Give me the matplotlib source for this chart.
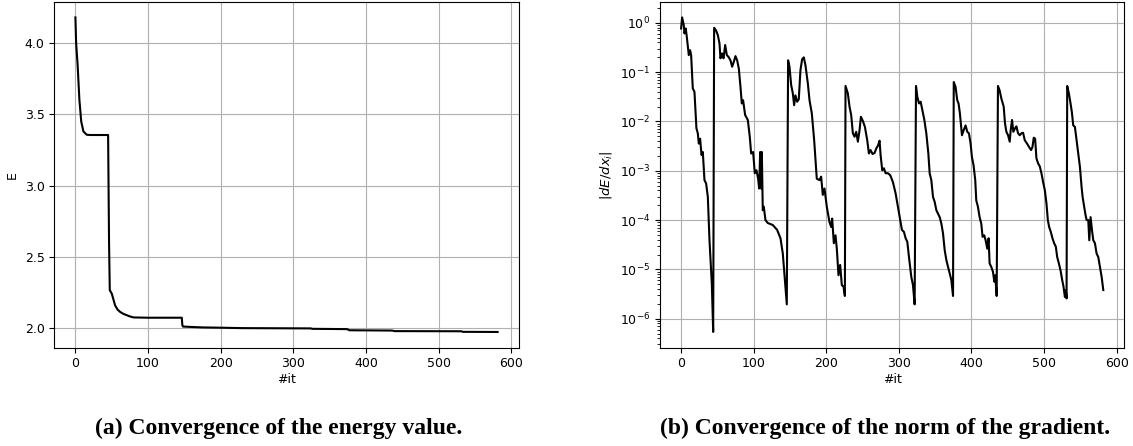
import numpy as np
import matplotlib
matplotlib.use("Agg")
import matplotlib.pyplot as plt

# energy E per iteration
energy_it = [0, 1, 3, 5.5, 8, 11, 15.5, 20, 45, 45.6, 46.3, 47.3, 50, 54.6, 58, 61.5, 66, 70.6, 75, 80,
             100, 146.4, 147.2, 148, 160, 175, 200, 230, 280, 324, 326, 374, 377, 436, 439, 531, 533, 581]
energy_val = [4.18, 4.0, 3.85, 3.60, 3.45, 3.38, 3.357, 3.355, 3.355, 3.0, 2.6, 2.266, 2.243, 2.16, 2.13, 2.114,
              2.10, 2.091, 2.082, 2.075, 2.073, 2.073, 2.02, 2.011, 2.008, 2.005, 2.003, 2.0, 1.999, 1.998, 1.995,
              1.993, 1.985, 1.983, 1.979, 1.978, 1.974, 1.973]

# gradient norm, stored as log10 values
grad_it = [0, 1.4, 3.7, 4.6, 6.4, 7.8, 10.6, 12.4, 13.8, 16.1, 18.4, 21.1, 23, 24.4, 26.2, 28.1, 29.9, 32.2,
           34.5, 36.8, 39.1, 42.3, 44.2,
           45.5, 48.3, 50.6, 52.9, 54.2, 56.5, 58.4, 60.7, 63, 65.3, 68, 70.3, 72.6, 74.9, 77.2, 79.5, 81.8,
           83.6, 85.4, 88.2, 91.9, 94.6, 96.5, 99.2, 101.5, 103.8, 106.1, 107.5, 108.9, 110.3, 111.2, 112.5,
           113.9, 116.2, 119.4, 126.3, 132.3, 136.9, 140.1, 143.3, 145.6,
           147.4, 149.3, 151.6, 153.9, 155.7, 157.5, 159.8, 162.1, 164.4, 166.7, 169, 171.3, 174.6, 176.9,
           180.1, 183.3, 186.9, 190.6, 192.9, 195.2, 197.5, 200.7, 204.4, 206.7, 208.1, 210.4, 212.7, 214.5,
           216.8, 219.1, 221.4, 223.7, 225.6,
           226.5, 229.7, 232, 234.3, 236.6, 238.9, 241.2, 243.5, 245.8, 247.7, 250.4, 253.2, 256.4, 258.7,
           261, 263.7, 266.5, 268.8, 271.5, 273.4, 274.8, 277.1, 279.4, 281.7, 284.9, 288.1, 291.8, 295.5,
           298.7, 301.9, 304.2, 307, 309.3, 311.6, 313.9, 317.1, 319.4, 321.7,
           323.6, 325.4, 327.7, 330, 332.3, 335.1, 337.8, 340.6, 342.4, 344.7, 347, 349.3, 351.6, 353.9,
           356.2, 358.5, 360.8, 363.1, 365.4, 367.7, 370, 372.3, 374.6,
           375.6, 378.1, 380.4, 382.2, 384.1, 386.9, 389.2, 391.9, 394.2, 396.5, 398.8, 400.6, 402.9, 405.2,
           406.6, 408.9, 411.2, 413.5, 415.3, 417.6, 419.5, 421.8, 423.6, 425, 427.3, 429.6, 431.5, 432.8, 434.7,
           436.5, 438.8, 441.1, 444.4, 446.2, 448.1, 450.4, 452.7, 454, 455.9, 457.7, 460, 461.9, 464.2,
           466.5, 468.8, 471.1, 473.4, 476.6, 479.4, 482.1, 484, 485.8, 487.7, 489.5, 491.8, 494.1, 496.4,
           498.7, 501, 503.3, 505.2, 507, 509.3, 511.6, 513.9, 516.2, 518.1, 520.4, 522.7, 525, 526.8, 528.7,
           530, 531,
           531.9, 534.2, 536.5, 538.3, 540.2, 542.5, 544.8, 547.1, 549.4, 551.7, 553.1, 554.9, 556.8, 558.6,
           560.9, 562.3, 564.1, 566, 567.8, 570.1, 572.4, 574.7, 577, 579.3, 581.6]
grad_log10 = [-0.114, 0.11, -0.047, -0.215, -0.114, -0.28, -0.655, -0.554, -0.655, -1.33, -1.40, -2.14, -2.24,
              -2.45, -2.35, -2.68, -2.62, -3.19, -3.26, -3.53, -4.41, -5.29, -6.27,
              -0.10, -0.16, -0.25, -0.42, -0.72, -0.62, -0.72, -0.45, -0.655, -0.69, -0.76, -0.89, -0.79, -0.675,
              -0.76, -0.925, -1.30, -1.635, -1.57, -1.87, -1.97, -2.31, -2.65, -2.62, -3.05, -2.99, -3.16, -3.36,
              -2.62, -3.36, -2.62, -3.80, -3.73, -4.0, -4.06, -4.10, -4.2, -4.37, -4.68, -5.29, -5.71,
              -0.76, -0.89, -1.26, -1.43, -1.67, -1.47, -1.60, -1.55, -0.96, -0.74, -0.70, -0.86, -1.23, -1.57,
              -1.84, -2.38, -3.16, -3.19, -3.12, -3.49, -3.36, -3.73, -4.04, -4.14, -3.97, -4.47, -4.31, -4.58,
              -5.12, -4.91, -5.32, -5.35, -5.54,
              -1.28, -1.43, -1.70, -1.87, -2.24, -2.31, -2.21, -2.41, -2.18, -1.905, -1.99, -2.11, -2.38, -2.65,
              -2.58, -2.66, -2.64, -2.55, -2.48, -2.39, -2.68, -2.99, -2.95, -3.05, -3.05, -3.09, -3.23, -3.46,
              -3.73, -4.0, -4.2, -4.24, -4.37, -4.44, -4.75, -5.15, -5.32, -5.71,
              -1.28, -1.50, -1.635, -1.60, -1.77, -1.97, -2.24, -2.65, -3.05, -3.19, -3.53, -3.63, -3.80, -3.87,
              -3.94, -4.07, -4.27, -4.61, -4.81, -4.95, -5.08, -5.22, -5.54,
              -1.20, -1.30, -1.57, -1.635, -1.84, -2.28, -2.18, -2.08, -2.21, -2.24, -2.45, -2.72, -2.89, -3.19,
              -3.60, -3.73, -3.94, -4.07, -4.34, -4.31, -4.41, -4.58, -4.37, -4.88, -4.95, -5.05, -5.25, -5.12, -5.54,
              -1.28, -1.37, -1.53, -1.70, -2.04, -2.21, -2.28, -2.41, -2.18, -1.97, -2.21, -2.14, -2.10, -2.24,
              -2.28, -2.24, -2.23, -2.38, -2.45, -2.52, -2.58, -2.52, -2.33, -2.35, -2.75, -2.85, -2.91, -3.05,
              -3.23, -3.39, -3.66, -4.0, -4.14, -4.24, -4.37, -4.47, -4.54, -4.75, -4.88, -5.02, -5.22, -5.35, -5.56,
              -5.42, -5.59,
              -1.28, -1.43, -1.635, -1.81, -2.08, -2.11, -2.38, -2.65, -2.92, -3.33, -3.53, -3.70, -3.87, -4.0,
              -4.0, -4.41, -3.94, -4.2, -4.41, -4.47, -4.68, -4.75, -4.95, -5.15, -5.42]

captions = ["(a) Convergence of the energy value.", "(b) Convergence of the norm of the gradient."]

W, H = 1133, 446
fig = plt.figure(figsize=(W / 100, H / 100), dpi=100)

ax1 = fig.add_axes([54.3 / W, 98.3 / H, 464.4 / W, 346 / H])
ax1.plot(energy_it, energy_val, color="black", lw=1.5)
ax1.set_xticks([0, 100, 200, 300, 400, 500, 600])
ax1.set_yticks([2.0, 2.5, 3.0, 3.5, 4.0])
ax1.set_xlabel("#it", fontsize=9, labelpad=2)
ax1.set_ylabel("E", fontsize=9)
ax1.tick_params(labelsize=9)
ax1.grid(True)

ax2 = fig.add_axes([660 / W, 98.3 / H, 464.4 / W, 346 / H])
ax2.plot(grad_it, 10.0 ** np.array(grad_log10), color="black", lw=1.5)
ax2.set_yscale("log")
ax2.set_xticks([0, 100, 200, 300, 400, 500, 600])
ax2.set_xlabel("#it", fontsize=9, labelpad=2)
ax2.set_ylabel(r"$|dE/dx_i|$", fontsize=9.5)
ax2.tick_params(labelsize=9)
ax2.grid(True)

fig.text(278.5 / W, (H - 428) / H, captions[0], ha="center", va="center",
         family="Liberation Serif", weight="bold", fontsize=17)
fig.text(884.7 / W, (H - 428) / H, captions[1], ha="center", va="center",
         family="Liberation Serif", weight="bold", fontsize=17)

fig.savefig("out.png", dpi=100)
